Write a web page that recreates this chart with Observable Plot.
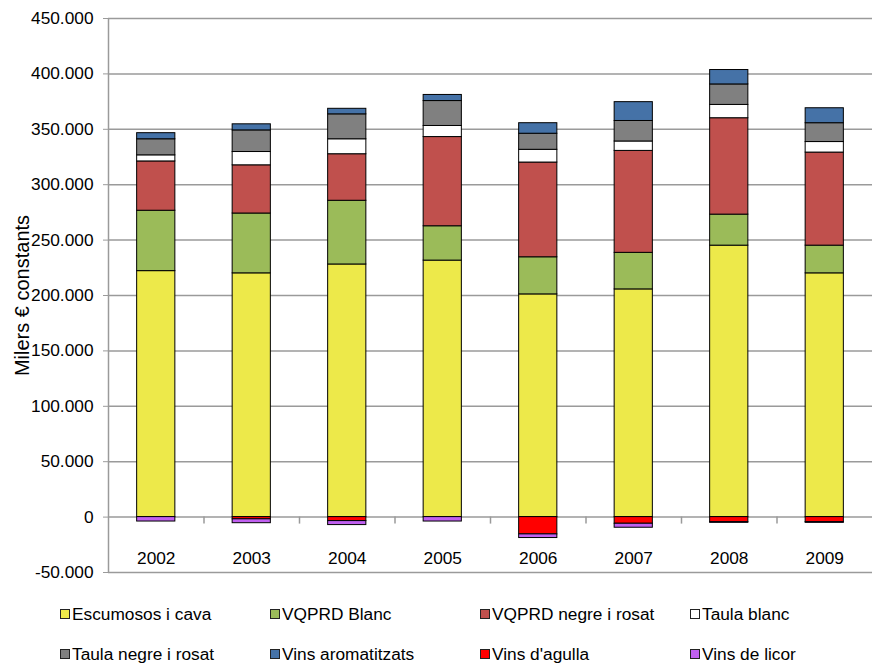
<!DOCTYPE html>
<html>
<head>
<meta charset="utf-8">
<script src="https://cdn.jsdelivr.net/npm/d3@7"></script>
<script src="https://cdn.jsdelivr.net/npm/@observablehq/plot@0.6"></script>
<style>
  html, body { margin: 0; padding: 0; background: #fff; }
  #wrap { width: 872px; height: 664px; position: relative; font-family: "Liberation Sans", Arial, sans-serif; }
  #chart svg { display: block; }
  #chart g[aria-label="y-axis label"] text { font-size: 20px; }
  #legend { position: absolute; left: 0; top: 584px; width: 872px; }
  .row { position: absolute; left: 60px; height: 20px; display: flex; }
  .item { width: 210px; display: flex; align-items: center; font-size: 17.3px; color: #000; white-space: nowrap; }
  .sw { width: 8px; height: 8px; border: 1px solid #222; margin-right: 2px; flex: none; }
</style>
</head>
<body>
<div id="wrap">
  <div id="chart"></div>
  <div id="legend"></div>
</div>
<script>
const years = [2002, 2003, 2004, 2005, 2006, 2007, 2008, 2009];
const seriesNames = ["Escumosos i cava", "VQPRD Blanc", "VQPRD negre i rosat", "Taula blanc",
                     "Taula negre i rosat", "Vins aromatitzats", "Vins d'agulla", "Vins de licor"];
const seriesColors = ["#EDE94A", "#9BBB59", "#C0504D", "#FFFFFF", "#808080", "#4572A7", "#FF0000", "#C060F0"];

const escumosos     = [222000, 220000, 228000, 231500, 201000, 205500, 245000, 220000];
const vqprdBlanc    = [54500, 54000, 57500, 31000, 33500, 33000, 28000, 25000];
const vqprdNegre    = [44500, 43500, 42000, 80500, 85500, 92000, 87000, 84000];
const taulaBlanc    = [5500, 12000, 13500, 10000, 11500, 8500, 12000, 9500];
const taulaNegre    = [14500, 19500, 22500, 22500, 14500, 18500, 18500, 17000];
const aromatitzats  = [5500, 5500, 5000, 5500, 9500, 17000, 13000, 13500];
const agulla        = [0, -2000, -3600, 0, -15600, -6000, -4500, -4500];
const licor         = [-4000, -3500, -3600, -4000, -3300, -3600, -700, -700];

const yTicks = [-50000, 0, 50000, 100000, 150000, 200000, 250000, 300000, 350000, 400000, 450000];

const seriesValues = [escumosos, vqprdBlanc, vqprdNegre, taulaBlanc, taulaNegre, aromatitzats, agulla, licor];
const data = [];
seriesNames.forEach((name, i) => {
  years.forEach((yr, j) => data.push({year: yr, series: name, value: seriesValues[i][j]}));
});

const xDomain = [years[0] - 0.5, years[years.length - 1] + 0.5];
const boundaries = years.slice(1).map(y => y - 0.5);
const fmt = d3.formatLocale({decimal: ",", thousands: ".", grouping: [3], currency: ["", "€"], minus: "-"}).format(",");
const grid = "#9a9a9a";

const chart = Plot.plot({
  width: 872,
  height: 584,
  marginLeft: 108,
  marginRight: 0,
  marginTop: 18,
  marginBottom: 12,
  style: {fontFamily: "'Liberation Sans', Arial, sans-serif", fontSize: "17.3px", color: "#000", background: "#fff"},
  x: {type: "linear", domain: xDomain, axis: null},
  y: {domain: [yTicks[0], yTicks[yTicks.length - 1]], axis: null},
  color: {domain: seriesNames, range: seriesColors},
  marks: [
    Plot.ruleY(yTicks, {stroke: grid, strokeWidth: 1.5}),
    Plot.ruleX([xDomain[0]], {stroke: grid, strokeWidth: 1.5}),
    Plot.ruleX(boundaries, {x: d => d, y1: 0, y2: 0, insetBottom: -7, stroke: grid, strokeWidth: 1.5}),
    Plot.axisY({ticks: yTicks, tickSize: 5, tickPadding: 10, tickFormat: fmt, stroke: grid,
                label: "Milers € constants", labelAnchor: "center", labelOffset: 94, labelArrow: "none"}),
    Plot.axisX({ticks: years, tickSize: 0, tickFormat: d => String(d), dy: -30, label: null}),
    Plot.rectY(data, Plot.stackY({
      x1: d => d.year - 0.2,
      x2: d => d.year + 0.2,
      y: "value",
      fill: "series",
      stroke: "#000",
      strokeWidth: 1
    }))
  ]
});
document.getElementById("chart").appendChild(chart);

// Legend
const legend = document.getElementById("legend");
[0, 1].forEach(r => {
  const row = document.createElement("div");
  row.className = "row";
  row.style.top = (r === 0 ? 20 : 60) + "px";
  seriesNames.slice(r * 4, r * 4 + 4).forEach((name, k) => {
    const idx = r * 4 + k;
    const it = document.createElement("div");
    it.className = "item";
    const sw = document.createElement("span");
    sw.className = "sw";
    sw.style.background = seriesColors[idx];
    const tx = document.createElement("span");
    tx.textContent = name;
    it.appendChild(sw);
    it.appendChild(tx);
    row.appendChild(it);
  });
  legend.appendChild(row);
});
</script>
</body>
</html>
